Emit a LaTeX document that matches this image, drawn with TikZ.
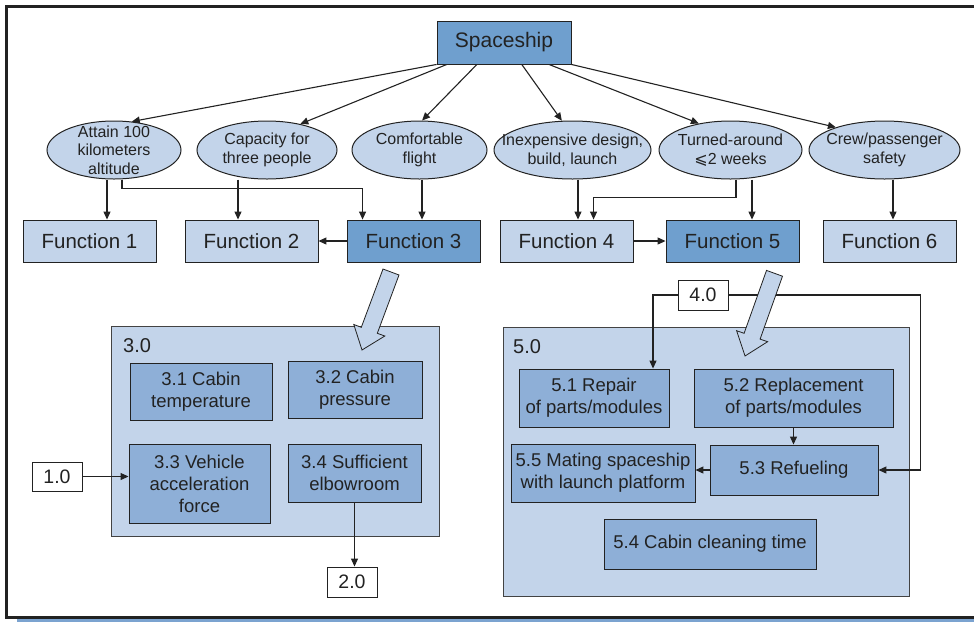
\documentclass[tikz,border=0pt]{standalone}
\usepackage{fontspec}
\setmainfont{Liberation Sans}
\newfontfamily\symfont{DejaVu Sans}
\usetikzlibrary{arrows.meta,shapes.geometric}

\definecolor{midblue}{HTML}{6F9FCE}
\definecolor{boxblue}{HTML}{8EAFD7}
\definecolor{paleblue}{HTML}{C3D4EA}
\definecolor{inkgray}{HTML}{222222}
\definecolor{stripblue}{HTML}{7BA3D0}

\pgfdeclarelayer{back}
\pgfdeclarelayer{links}
\pgfsetlayers{back,links,main}

\tikzset{
  every node/.style={text=inkgray},
  conn/.style={draw=inkgray, line width=1.1pt, -{Triangle[length=8pt,width=7pt]}},
  plainbox/.style={rectangle, draw=inkgray, line width=0.9pt, inner sep=0pt, align=center},
  funcbox/.style={plainbox, fill=paleblue, font=\fontsize{20.5}{24}\selectfont},
  keyfunc/.style={funcbox, fill=midblue},
  goal/.style={ellipse, draw=inkgray, line width=1pt, fill=paleblue, inner sep=0pt,
    minimum height=58pt},
  goaltext/.style={align=center, inner sep=0pt, text=inkgray,
    font=\fontsize{16}{18.5}\selectfont},
  panel/.style={rectangle, draw=inkgray!85, line width=0.9pt, fill=paleblue, inner sep=0pt},
  subfunc/.style={plainbox, fill=boxblue, font=\fontsize{18.5}{22}\selectfont},
  refbox/.style={plainbox, fill=white, minimum width=50pt, minimum height=30pt,
    font=\fontsize{19.5}{22}\selectfont},
  panellabel/.style={anchor=base west, inner sep=0pt, font=\fontsize{20}{24}\selectfont},
  bigarrow/.style={fill=paleblue, draw=inkgray, line width=0.8pt, line join=miter},
}

\begin{document}
\begin{tikzpicture}[x=1pt, y=-1pt]
\useasboundingbox (0,0) rectangle (974,622);

\begin{pgfonlayer}{back}
  % page frame and bottom strip
  \draw[inkgray, line width=3pt] (980,6) -- (6.5,6) -- (6.5,617.5) -- (980,617.5);
  \fill[stripblue] (17,619.2) rectangle (974,622);
  % decomposition panels
  \node[panel, minimum width=328pt, minimum height=210pt] (p3) at (275,431) {};
  \node[panel, minimum width=406pt, minimum height=269pt] (p5) at (706,461.5) {};
\end{pgfonlayer}

% top level
\node[plainbox, fill=midblue, minimum width=134pt, minimum height=43pt,
      font=\fontsize{21}{24}\selectfont] (sp) at (504,42.5) {Spaceship};

% goals (the wording may run past the outline)
\node[goal, minimum width=134pt, label={[goaltext]center:Attain 100\\kilometers\\altitude}] (e1) at (114,150) {};
\node[goal, minimum width=140pt, label={[goaltext]center:Capacity for\\three people}] (e2) at (267,150) {};
\node[goal, minimum width=135pt, label={[goaltext]center:Comfortable\\flight}] (e3) at (419.5,150) {};
\node[goal, minimum width=157pt, label={[goaltext]center:Inexpensive design,\\build, launch}] (e4) at (572.5,150) {};
\node[goal, minimum width=143pt, label={[goaltext]center:Turned-around\\{\symfont ⩽}2 weeks}] (e5) at (730.5,150) {};
\node[goal, minimum width=151pt, label={[goaltext]center:Crew/passenger\\safety}] (e6) at (884.5,150) {};

% functions
\node[funcbox, minimum width=133pt, minimum height=42pt] (f1) at (89.5,241) {Function 1};
\node[funcbox, minimum width=133pt, minimum height=42pt] (f2) at (251.5,241) {Function 2};
\node[keyfunc, minimum width=133pt, minimum height=42pt] (f3) at (413.5,241) {Function 3};
\node[funcbox, minimum width=133pt, minimum height=42pt] (f4) at (566.5,241) {Function 4};
\node[keyfunc, minimum width=133pt, minimum height=42pt] (f5) at (732.5,241) {Function 5};
\node[funcbox, minimum width=133pt, minimum height=42pt] (f6) at (889.5,241) {Function 6};

% function 3 breakdown
\node[panellabel] (l3) at (123,352) {3.0};
\node[subfunc, minimum width=142pt, minimum height=57pt] (b31) at (201,391.5) {3.1 Cabin\\temperature};
\node[subfunc, minimum width=134pt, minimum height=57pt] (b32) at (355,389.5) {3.2 Cabin\\pressure};
\node[subfunc, minimum width=141pt, minimum height=79pt] (b33) at (199.5,483.5) {3.3 Vehicle\\acceleration\\force};
\node[subfunc, minimum width=133pt, minimum height=58pt] (b34) at (354.5,473) {3.4 Sufficient\\elbowroom};
\node[refbox, minimum height=29pt] (r1) at (57,476.5) {1.0};
\node[refbox] (r2) at (352,582) {2.0};

% function 5 breakdown
\node[panellabel] (l5) at (513,353) {5.0};
\node[subfunc, minimum width=150pt, minimum height=58pt] (b51) at (594,398) {5.1 Repair\\of parts/modules};
\node[subfunc, minimum width=199pt, minimum height=58pt] (b52) at (793.5,398) {5.2 Replacement\\of parts/modules};
\node[subfunc, minimum width=168pt, minimum height=50pt] (b53) at (794,470) {5.3 Refueling};
\node[subfunc, minimum width=184pt, minimum height=58pt] (b55) at (603,473) {5.5 Mating spaceship\\with launch platform};
\node[subfunc, minimum width=212pt, minimum height=50pt] (b54) at (710,544) {5.4 Cabin cleaning time};
\node[refbox] (r4) at (703,295) {4.0};

\begin{pgfonlayer}{links}
  % spaceship to goals
  \draw[conn] (sp.south west) -- (e1.58);
  \draw[conn] (sp.201) -- (e2.38);
  \draw[conn] (sp.219) -- (e3.85);
  \draw[conn] (sp.309) -- (e4.110);
  \draw[conn] (sp.334) -- (e5.140);
  \draw[conn] (sp.south east) -- (e6.155);
  % goals to functions
  \draw[conn] ([xshift=-7pt]e1.south) -- ([xshift=-7pt]e1.south |- f1.north);
  \draw[conn] ([xshift=8pt]e1.south) -- ++(0,9) -| ([xshift=16pt]f3.north west);
  \draw[conn] ([xshift=-29pt]e2.south) -- ([xshift=-29pt]e2.south |- f2.north);
  \draw[conn] ([xshift=2.5pt]e3.south) -- ([xshift=2.5pt]e3.south |- f3.north);
  \draw[conn] ([xshift=5.5pt]e4.south) -- ([xshift=5.5pt]e4.south |- f4.north);
  \draw[conn] ([xshift=5.5pt]e5.south) -- ++(0,18) -| ([xshift=94pt]f4.north west);
  \draw[conn] ([xshift=21.5pt]e5.south) -- ([xshift=21.5pt]e5.south |- f5.north);
  \draw[conn] ([xshift=8.5pt]e6.south) -- ([xshift=8.5pt]e6.south |- f6.north);
  % between functions
  \draw[conn] (f3.west) -- (f2.east);
  \draw[conn] (f4.east) -- (f5.west);
  % inside the breakdowns
  \draw[conn] (r1.east) -- (r1.east -| b33.west);
  \draw[conn] (b34.south) -- (b34.south |- r2.north);
  \draw[conn] (r4.west) -| ([xshift=59pt]b51.north);
  \draw[conn] (r4.east) -- ++(192,0) |- (b53.east);
  \draw[conn] (b52.south) -- (b52.south |- b53.north);
  \draw[conn] (b53.west) -- (b53.west -| b55.east);
\end{pgfonlayer}

% hollow arrows leading into the breakdowns
\draw[bigarrow] (383.0,269.0) -- (399.0,275.0) -- (377.3,333.3) -- (384.8,336.0)
  -- (362,350) -- (353.8,324.5) -- (361.3,327.3) -- cycle;
\draw[bigarrow] (766.5,270.4) -- (782.5,276.2) -- (760.1,339.1) -- (767.6,341.7)
  -- (745,356) -- (736.6,330.7) -- (744.1,333.3) -- cycle;
\end{tikzpicture}
\end{document}
